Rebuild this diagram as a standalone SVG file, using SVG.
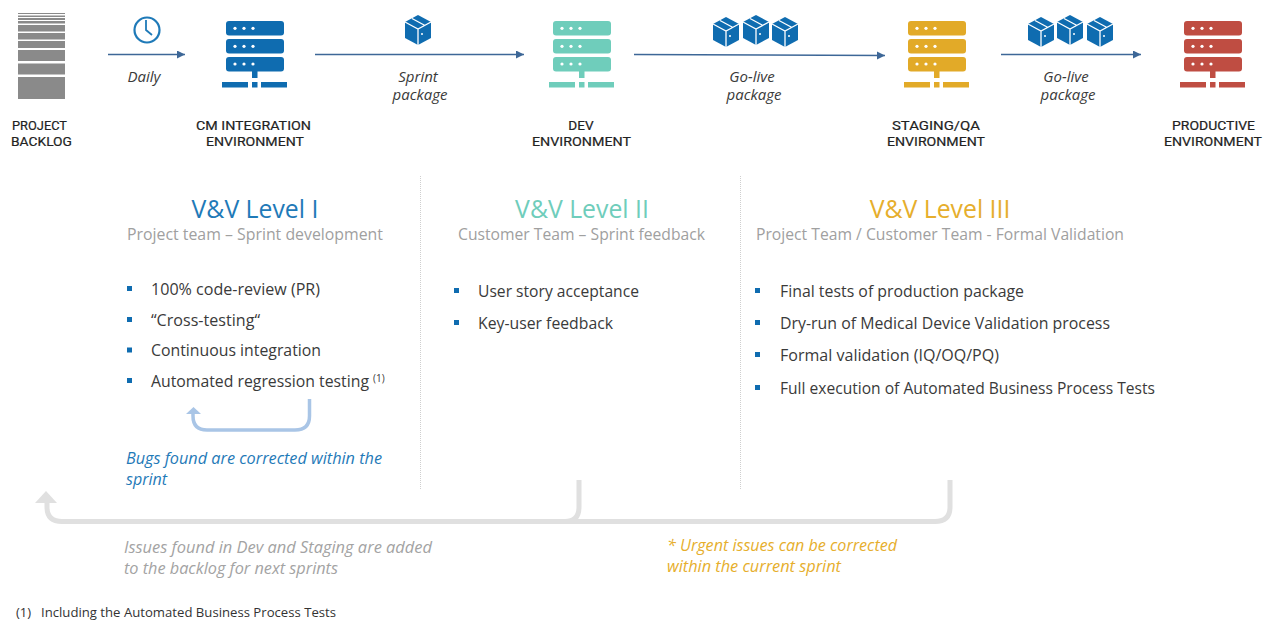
<svg xmlns="http://www.w3.org/2000/svg" width="1263" height="620" viewBox="0 0 1263 620">
<style>
text{font-family:"Open Sans","Noto Sans","Liberation Sans",sans-serif;fill:#2b2b2b}
text.h{font-family:Roboto,"Liberation Sans",sans-serif;font-size:13.6px;text-anchor:middle;fill:#222;stroke:#222;stroke-width:.2}
.lbl{font-size:15px;font-style:italic;text-anchor:middle;fill:#3a3a3a}
.title{font-size:24.8px;text-anchor:middle}
.sub{font-size:15.6px;text-anchor:middle;fill:#a0a0a0}
.li{font-size:15.5px;fill:#3a3a3a}
.note{font-size:16px;font-style:italic}
.bul{fill:#0f6cb0}
.flow{stroke:#3d6797;stroke-width:1.6;fill:none;marker-end:url(#tri)}
.st{fill:#8a8a8a}
.div{stroke:#cfcfcf;stroke-width:1;stroke-dasharray:1 1;fill:none}
</style>
<defs>
<marker id="tri" markerUnits="userSpaceOnUse" markerWidth="9" markerHeight="9" refX="8" refY="4" orient="auto"><path d="M0 0L8 4L0 8Z" fill="#3d6797"/></marker>
<symbol id="server" overflow="visible">
<rect x="4" y="21" width="58" height="14.5" rx="3"/>
<rect x="4" y="39" width="58" height="14.5" rx="3"/>
<rect x="4" y="57" width="58" height="14.5" rx="3"/>
<rect x="30" y="71" width="5.5" height="7"/>
<rect x="0" y="82" width="26" height="5.5"/>
<rect x="30" y="82" width="5.5" height="5.5"/>
<rect x="39" y="82" width="26" height="5.5"/>
<g fill="#fff"><circle cx="13" cy="28.3" r="1.6"/><circle cx="22" cy="28.3" r="1.6"/><circle cx="31" cy="28.3" r="1.6"/><circle cx="13" cy="46.3" r="1.6"/><circle cx="22" cy="46.3" r="1.6"/><circle cx="31" cy="46.3" r="1.6"/><circle cx="13" cy="64" r="1.6"/><circle cx="22" cy="64" r="1.6"/><circle cx="31" cy="64" r="1.6"/></g>
</symbol>
<symbol id="box" overflow="visible">
<path d="M0 -15L13 -8L13 8L0 15L-13 8L-13 -8Z" fill="#0f6cb0"/>
<path d="M-13 -8L0 -1L13 -8M0 -1L0 15M-6 -11.500L7 -4.500" fill="none" stroke="#fff" stroke-width="1.300"/>
<circle cx="4" cy="4" r="1" fill="#fff"/>
</symbol>
</defs>
<rect width="1263" height="620" fill="#fff"/>

<g id="connectors">
<path class="flow" d="M108 54.500H185"/>
<path class="flow" d="M315 54.500H524"/>
<path class="flow" d="M634 54.500L885 55.500"/>
<path class="flow" d="M1001 54.500H1141"/>
<path d="M309.500 399V416Q309.500 430 295 430H207Q193 430 193 416V412" fill="none" stroke="#a9c5e6" stroke-width="3.500"/>
<path d="M186 414L193.500 407L201 414Z" fill="#a9c5e6"/>
<path d="M579 480V507Q579 521.500 565 521.500H62Q47 521.500 47 507V500" fill="none" stroke="#e0e0e0" stroke-width="5"/>
<path d="M35 503L46 491L57 503Z" fill="#e0e0e0"/>
<path d="M950 480V507Q950 521.500 935 521.500H565" fill="none" stroke="#e0e0e0" stroke-width="5"/>
</g>
<g id="dividers">
<path class="div" d="M420.500 176V490"/>
<path class="div" d="M740.500 176V490"/>
</g>

<g id="backlog">
<g class="st">
<rect x="18" y="13" width="47" height="1"/><rect x="18" y="15.500" width="47" height="1.500"/><rect x="18" y="18" width="47" height="2"/>
<rect x="18" y="21" width="47" height="2.500"/><rect x="18" y="25" width="47" height="6.500"/><rect x="18" y="33" width="47" height="6.500"/>
<rect x="18" y="41" width="47" height="7"/><rect x="18" y="50" width="47" height="11"/><rect x="18" y="63.500" width="47" height="11"/><rect x="18" y="77" width="47" height="22"/>
</g>
<text class="h" x="39.500" y="130" textLength="55" lengthAdjust="spacingAndGlyphs">PROJECT</text><text class="h" x="41.500" y="146" textLength="61" lengthAdjust="spacingAndGlyphs">BACKLOG</text>
</g>

<g id="daily">
<circle cx="147" cy="30" r="12.500" fill="none" stroke="#1f7ab8" stroke-width="2.200"/>
<path d="M146 20V30L152 35" fill="none" stroke="#1f7ab8" stroke-width="1.800"/>
<text class="lbl" x="144" y="82">Daily</text>
</g>

<g id="cm-integration">
<use href="#server" x="222" y="0" fill="#0f6cb0"/>
<text class="h" x="253.500" y="130" textLength="115" lengthAdjust="spacingAndGlyphs">CM INTEGRATION</text><text class="h" x="255" y="146" textLength="98" lengthAdjust="spacingAndGlyphs">ENVIRONMENT</text>
</g>

<g id="sprint-package">
<use href="#box" x="418" y="30"/>
<text class="lbl" x="418" y="82">Sprint</text><text class="lbl" x="420" y="100">package</text>
</g>

<g id="dev">
<use href="#server" x="549" y="0" fill="#6fcdbb"/>
<text class="h" x="581" y="130">DEV</text><text class="h" x="581.500" y="146" textLength="99" lengthAdjust="spacingAndGlyphs">ENVIRONMENT</text>
</g>

<g id="golive-1">
<use href="#box" x="726" y="32"/><use href="#box" x="756" y="30"/><use href="#box" x="785" y="32"/>
<text class="lbl" x="752" y="82">Go-live</text><text class="lbl" x="754" y="100">package</text>
</g>

<g id="staging">
<use href="#server" x="904" y="0" fill="#e2aa28"/>
<text class="h" x="936" y="130" textLength="88" lengthAdjust="spacingAndGlyphs">STAGING/QA</text><text class="h" x="936" y="146" textLength="98" lengthAdjust="spacingAndGlyphs">ENVIRONMENT</text>
</g>

<g id="golive-2">
<use href="#box" x="1041" y="32"/><use href="#box" x="1070" y="30"/><use href="#box" x="1100" y="32"/>
<text class="lbl" x="1066" y="82">Go-live</text><text class="lbl" x="1068" y="100">package</text>
</g>

<g id="productive">
<use href="#server" x="1180" y="0" fill="#bf4d42"/>
<text class="h" x="1213.500" y="130" textLength="83" lengthAdjust="spacingAndGlyphs">PRODUCTIVE</text><text class="h" x="1213" y="146" textLength="98" lengthAdjust="spacingAndGlyphs">ENVIRONMENT</text>
</g>

<g id="level-1">
<text class="title" x="255" y="218" style="fill:#1f7ab8">V&amp;V Level I</text>
<text class="sub" x="255" y="240" textLength="256" lengthAdjust="spacingAndGlyphs">Project team – Sprint development</text>
<rect class="bul" x="127" y="286" width="5" height="5"/><text class="li" x="151" y="295" textLength="169" lengthAdjust="spacingAndGlyphs">100% code-review (PR)</text>
<rect class="bul" x="127" y="317" width="5" height="5"/><text class="li" x="151" y="326" textLength="109" lengthAdjust="spacingAndGlyphs">“Cross-testing“</text>
<rect class="bul" x="127" y="347.500" width="5" height="5"/><text class="li" x="151" y="356" textLength="170" lengthAdjust="spacingAndGlyphs">Continuous integration</text>
<rect class="bul" x="127" y="378" width="5" height="5"/><text class="li" x="151" y="387" textLength="218" lengthAdjust="spacingAndGlyphs">Automated regression testing</text>
<text x="373" y="382" style="font-size:10px;fill:#3a3a3a">(1)</text>
<text class="note" x="126" y="464" textLength="256" lengthAdjust="spacingAndGlyphs" style="fill:#1f7ab8">Bugs found are corrected within the</text>
<text class="note" x="126" y="485" textLength="41" lengthAdjust="spacingAndGlyphs" style="fill:#1f7ab8">sprint</text>
</g>

<g id="level-2">
<text class="title" x="582" y="218" style="fill:#6fcdbb">V&amp;V Level II</text>
<text class="sub" x="581.500" y="240" textLength="247" lengthAdjust="spacingAndGlyphs">Customer Team – Sprint feedback</text>
<rect class="bul" x="454" y="288" width="5" height="5"/><text class="li" x="478" y="297" textLength="161" lengthAdjust="spacingAndGlyphs">User story acceptance</text>
<rect class="bul" x="454" y="320" width="5" height="5"/><text class="li" x="478" y="329" textLength="135" lengthAdjust="spacingAndGlyphs">Key-user feedback</text>
</g>

<g id="level-3">
<text class="title" x="940" y="218" style="fill:#e6ae2c">V&amp;V Level III</text>
<text class="sub" x="940" y="240" textLength="368" lengthAdjust="spacingAndGlyphs">Project Team / Customer Team - Formal Validation</text>
<rect class="bul" x="755" y="288" width="5" height="5"/><text class="li" x="780" y="297" textLength="244" lengthAdjust="spacingAndGlyphs">Final tests of production package</text>
<rect class="bul" x="755" y="320" width="5" height="5"/><text class="li" x="780" y="329" textLength="330" lengthAdjust="spacingAndGlyphs">Dry-run of Medical Device Validation process</text>
<rect class="bul" x="755" y="352" width="5" height="5"/><text class="li" x="780" y="361" textLength="219" lengthAdjust="spacingAndGlyphs">Formal validation (IQ/OQ/PQ)</text>
<rect class="bul" x="755" y="385" width="5" height="5"/><text class="li" x="780" y="394" textLength="375" lengthAdjust="spacingAndGlyphs">Full execution of Automated Business Process Tests</text>
</g>

<g id="notes">
<text class="note" x="124" y="553" textLength="308" lengthAdjust="spacingAndGlyphs" style="fill:#a3a3a3">Issues found in Dev and Staging are added</text>
<text class="note" x="124" y="574" textLength="214" lengthAdjust="spacingAndGlyphs" style="fill:#a3a3a3">to the backlog for next sprints</text>
<text class="note" x="667" y="551" textLength="230" lengthAdjust="spacingAndGlyphs" style="fill:#e6ae2c">* Urgent issues can be corrected</text>
<text class="note" x="667" y="572" textLength="174" lengthAdjust="spacingAndGlyphs" style="fill:#e6ae2c">within the current sprint</text>
<text x="16" y="617" style="font-size:13px;fill:#333">(1)</text>
<text x="41" y="617" textLength="295" lengthAdjust="spacingAndGlyphs" style="font-size:13px;fill:#333">Including the Automated Business Process Tests</text>
</g>
</svg>
